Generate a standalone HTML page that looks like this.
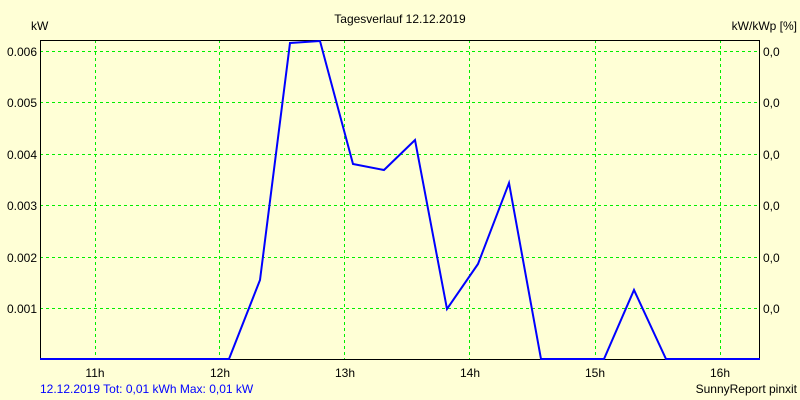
<!DOCTYPE html>
<html><head><style>body{margin:0;background:#ffffd6}svg{display:block}text{font-family:"Liberation Sans",sans-serif;font-size:12px}</style></head><body>
<svg width="800" height="400" xmlns="http://www.w3.org/2000/svg">
<rect width="800" height="400" fill="#ffffd6"/>
<g stroke="#00ee00" stroke-dasharray="3,3" stroke-width="1">
<line x1="40" x2="760" y1="51.5" y2="51.5"/><line x1="40" x2="760" y1="102.5" y2="102.5"/><line x1="40" x2="760" y1="154.5" y2="154.5"/><line x1="40" x2="760" y1="205.5" y2="205.5"/><line x1="40" x2="760" y1="257.5" y2="257.5"/><line x1="40" x2="760" y1="308.5" y2="308.5"/>
<line y1="40" y2="359" x1="95.5" x2="95.5"/><line y1="40" y2="359" x1="219.5" x2="219.5"/><line y1="40" y2="359" x1="344.5" x2="344.5"/><line y1="40" y2="359" x1="469.5" x2="469.5"/><line y1="40" y2="359" x1="595.5" x2="595.5"/><line y1="40" y2="359" x1="720.5" x2="720.5"/>
</g>
<path d="M40.5 359.5V40.5H759.5V359.5H40.5" fill="none" stroke="#000"/>
<polyline fill="none" stroke="#0000ff" stroke-width="2" points="40,359 229,359 260,280 290,43 320,41 353,164 384,170 415,140 447,309 478,264 509,183 541,359 604,359 634,290 666,359 760,359"/>
<g text-anchor="end"><text x="37" y="56">0.006</text><text x="37" y="107">0.005</text><text x="37" y="159">0.004</text><text x="37" y="210">0.003</text><text x="37" y="262">0.002</text><text x="37" y="313">0.001</text></g>
<g><text x="763" y="56">0,0</text><text x="763" y="107">0,0</text><text x="763" y="159">0,0</text><text x="763" y="210">0,0</text><text x="763" y="262">0,0</text><text x="763" y="313">0,0</text></g>
<g text-anchor="middle"><text x="95" y="377">11h</text><text x="220" y="377">12h</text><text x="345" y="377">13h</text><text x="470" y="377">14h</text><text x="595" y="377">15h</text><text x="720" y="377">16h</text></g>
<text x="400" y="23" text-anchor="middle">Tagesverlauf 12.12.2019</text>
<text x="31" y="30">kW</text>
<text x="797" y="30" text-anchor="end">kW/kWp [%]</text>
<text x="40" y="393" fill="#0000ff" font-size="11">12.12.2019 Tot: 0,01 kWh Max: 0,01 kW</text>
<text x="797" y="393" text-anchor="end" font-size="11">SunnyReport pinxit</text>
</svg>
</body></html>
